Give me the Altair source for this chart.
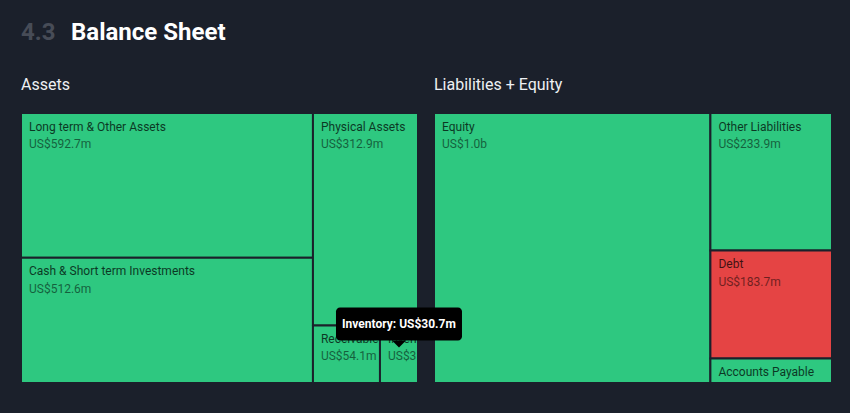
import math
import altair as alt
import pandas as pd

# ---------------- data ----------------
section_number = "4.3"
section_title = "Balance Sheet"
panel_titles = ["Assets", "Liabilities + Equity"]

asset_names = ["Long term & Other Assets", "Cash & Short term Investments",
               "Physical Assets", "Receivables", "Inventory"]
asset_values = [592.7, 512.6, 312.9, 54.1, 30.7]
asset_status = ["ok", "ok", "ok", "ok", "ok"]

liab_names = ["Equity", "Other Liabilities", "Debt", "Accounts Payable"]
liab_values = [1043.8, 233.9, 183.7, 41.6]
liab_status = ["ok", "ok", "bad", "ok"]

tooltip_item = "Inventory"

# ---------------- style / layout ----------------
BG = "#1b202b"
GREEN = "#2ec880"
RED = "#e54444"
FONT = "Roboto"
PANEL_W = [397, 398]
GAP = 16
H = 270
PHI = (1 + math.sqrt(5)) / 2


def fmt(v):
    return f"US${v/1000:.1f}b" if v >= 1000 else f"US${v:.1f}m"


def squarify(values, x0, y0, x1, y1, ratio=PHI):
    """d3.treemapSquarify port: returns list of (x0, y0, x1, y1)."""
    out = [None] * len(values)
    n = len(values)
    value = sum(values)
    i0 = i1 = 0
    while i0 < n:
        dx, dy = x1 - x0, y1 - y0
        sum_v = values[i1]; i1 += 1
        min_v = max_v = sum_v
        alpha = max(dy / dx, dx / dy) / (value * ratio)
        beta = sum_v * sum_v * alpha
        min_ratio = max(max_v / beta, beta / min_v)
        while i1 < n:
            nv = values[i1]
            sum_v += nv
            min_v = min(min_v, nv)
            max_v = max(max_v, nv)
            beta = sum_v * sum_v * alpha
            new_ratio = max(max_v / beta, beta / min_v)
            if new_ratio > min_ratio:
                sum_v -= nv
                break
            min_ratio = new_ratio
            i1 += 1
        idx = list(range(i0, i1))
        if dx < dy:  # dice: a horizontal row across full width
            ny = y0 + dy * sum_v / value
            cx = x0
            for k in idx:
                w = (x1 - x0) * values[k] / sum_v
                out[k] = (cx, y0, cx + w, ny)
                cx += w
            y0 = ny
        else:  # slice: a vertical column across full height
            nx = x0 + dx * sum_v / value
            cy = y0
            for k in idx:
                h = (y1 - y0) * values[k] / sum_v
                out[k] = (x0, cy, nx, cy + h)
                cy += h
            x0 = nx
        value -= sum_v
        i0 = i1
    return out


rows = []
offsets = [0, PANEL_W[0] + GAP]
for names, vals, stats, off, pw in [
    (asset_names, asset_values, asset_status, offsets[0], PANEL_W[0]),
    (liab_names, liab_values, liab_status, offsets[1], PANEL_W[1]),
]:
    for nm, v, st, r in zip(names, vals, stats, squarify(vals, off, 0, off + pw, H)):
        rows.append({"name": nm, "value": v, "label": fmt(v), "status": st,
                     "x0": r[0], "y0": r[1], "x1": r[2], "y1": r[3]})
cells = pd.DataFrame(rows)

TOTAL_W = PANEL_W[0] + GAP + PANEL_W[1]
xs = alt.Scale(domain=[0, TOTAL_W], nice=False, zero=False)
ys = alt.Scale(domain=[0, H], nice=False, zero=False, reverse=True)
X0 = alt.X("x0:Q", scale=xs, axis=None)
Y0 = alt.Y("y0:Q", scale=ys, axis=None)

rects = alt.Chart(cells).mark_rect(stroke=BG, strokeWidth=2).encode(
    x=X0, x2="x1:Q", y=Y0, y2="y1:Q",
    color=alt.Color("status:N", scale=alt.Scale(domain=["ok", "bad"], range=[GREEN, RED]), legend=None),
)

CUT = "\u200b"  # hard cut, no visible ellipsis
layers = [rects]
for _, c in cells.iterrows():
    w = c.x1 - c.x0
    h = c.y1 - c.y0
    one = alt.Chart(cells).transform_filter(alt.datum.name == c["name"])
    if h >= 20:
        layers.append(one.mark_text(align="left", baseline="alphabetic", dx=8, dy=17.5,
                                    font=FONT, fontSize=12, color="#000000", opacity=0.72,
                                    limit=max(w - 9, 1), ellipsis=CUT).encode(
            x=X0, y=Y0, text="name:N"))
    if h >= 42:
        layers.append(one.mark_text(align="left", baseline="alphabetic", dx=8, dy=35,
                                    font=FONT, fontSize=12, color="#000000", opacity=0.52,
                                    limit=max(w - 9, 1), ellipsis=CUT).encode(
            x=X0, y=Y0, text="label:N"))

# panel titles
ptitles = pd.DataFrame({"t": panel_titles, "x": offsets})
layers.append(alt.Chart(ptitles).mark_text(align="left", baseline="alphabetic", font=FONT,
                                           fontSize=16, color="#eef0f3").encode(
    x=alt.X("x:Q", scale=xs, axis=None), y=alt.value(-23.5), text="t:N"))

# header
hdr_num = pd.DataFrame({"t": [section_number], "x": [0]})
hdr_title = pd.DataFrame({"t": [section_title], "x": [50]})
layers.append(alt.Chart(hdr_num).mark_text(align="left", baseline="alphabetic", font=FONT,
                                           fontSize=24, fontWeight="bold", color="#474c57").encode(
    x=alt.X("x:Q", scale=xs, axis=None), y=alt.value(-73), text="t:N"))
layers.append(alt.Chart(hdr_title).mark_text(align="left", baseline="alphabetic", font=FONT,
                                             fontSize=24, fontWeight="bold", color="#ffffff").encode(
    x=alt.X("x:Q", scale=xs, axis=None), y=alt.value(-73), text="t:N"))

# hover tooltip shown in the reference
tip = cells[cells.name == tooltip_item].copy()
tip["cx"] = (tip.x0 + tip.x1) / 2
tip["tt"] = tip.name + ": " + tip.label
tip_base = alt.Chart(tip)
CX = alt.X("cx:Q", scale=xs, axis=None)
layers.append(tip_base.mark_rect(color="#000000", cornerRadius=4,
                                 xOffset=-63, x2Offset=63, yOffset=-18, y2Offset=15).encode(
    x=CX, x2="cx:Q", y=Y0, y2="y0:Q"))
layers.append(tip_base.mark_point(shape="M-1,0L1,0L0,1Z", filled=True, color="#000000",
                                  opacity=1, size=196, strokeWidth=0, yOffset=15).encode(
    x=CX, y=Y0))
layers.append(tip_base.mark_text(align="center", baseline="alphabetic", dy=3, font=FONT,
                                 fontSize=12, fontWeight="bold", color="#ffffff").encode(
    x=CX, y=Y0, text="tt:N"))

chart = alt.layer(*layers).properties(
    width=TOTAL_W, height=H,
    padding={"left": 21, "top": 113, "right": 18, "bottom": 30},
    autosize=alt.AutoSizeParams(type="none"),
    background=BG,
).configure_view(stroke=None)

chart.save("out.html", embed_options={"renderer": "svg", "actions": False})
